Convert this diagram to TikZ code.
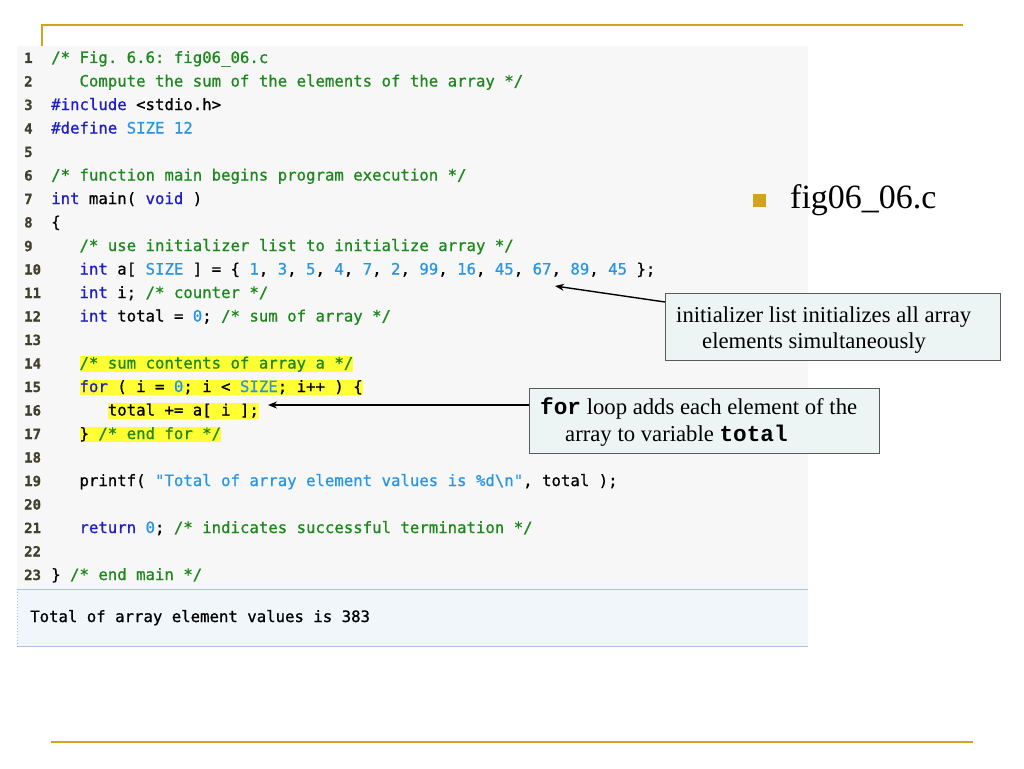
\documentclass[tikz,border=0pt]{standalone}
\usepackage{fontspec}
\setmainfont{Liberation Serif}
\setmonofont{DejaVu Sans Mono}[FakeBold=0.8]
\newfontfamily\cmono{Liberation Mono}
\usetikzlibrary{arrows.meta,calc}
\definecolor{cmtgreen}{RGB}{30,135,30}
\definecolor{kwblue}{RGB}{30,30,200}
\definecolor{cstblue}{RGB}{40,150,230}
\definecolor{lngray}{RGB}{64,64,44}
\definecolor{codebg}{RGB}{247,247,247}
\definecolor{outbg}{RGB}{240,246,250}
\definecolor{outline}{RGB}{170,195,225}
\definecolor{hlyellow}{RGB}{255,255,51}
\definecolor{boxfill}{RGB}{236,244,244}
\definecolor{boxborder}{RGB}{90,90,90}
\definecolor{gold}{RGB}{212,162,30}
\newcommand\codefnt{\ttfamily\fontsize{15.68}{23.5}\selectfont\frenchspacing}
\newcommand\lnfnt{\ttfamily\bfseries\fontsize{14}{16}\selectfont}
\newcommand\calfnt{\rmfamily\fontsize{22.7}{26}\selectfont}
\newcommand\cmt[1]{\textcolor{cmtgreen}{#1}}
\newcommand\kwd[1]{\textcolor{kwblue}{#1}}
\newcommand\cst[1]{\textcolor{cstblue}{#1}}
\begin{document}
\begin{tikzpicture}[x=1pt,y=-1pt,
  code/.style={anchor=base west, inner sep=0pt, font=\codefnt, text=black},
  lnum/.style={anchor=base west, inner sep=0pt, font=\lnfnt, text=lngray},
  hl/.style={fill=hlyellow, text height=12.5pt, text depth=3pt},
  callout/.style={draw=boxborder, fill=boxfill, line width=1.3pt, anchor=north west, inner sep=0pt},
  ctext/.style={anchor=base west, inner sep=0pt, font=\calfnt},
  arr/.style={line width=1.4pt, draw=black, -{Stealth[length=9pt,width=7pt]}},
  goldline/.style={draw=gold, line width=2pt}]
\useasboundingbox (0,0) rectangle (1024,768);
\fill[white] (0,0) rectangle (1024,768);
% frame lines
\draw[goldline] (42,47) -- (42,25) -- (963,25);
\draw[goldline] (51,742) -- (973,742);
% code background
\fill[codebg] (17,46) rectangle (808,589);
\fill[outbg] (17,589) rectangle (808,646);
\draw[outline, line width=1pt] (17,589) -- (808,589);
\draw[outline, line width=1pt] (17,646) -- (808,646);
\draw[outline, line width=1pt, dotted] (17,589) -- (17,646);
% line numbers
\foreach \k in {1,...,23} \node[lnum] (n\k) at (24, {63+(\k-1)*23.5}) {\k};
% code
\node[code] (c1) at (51,63) {\cmt{/* Fig. 6.6: fig06\_06.c}};
\node[code] (c2) at (79.32,86.5) {\cmt{Compute the sum of the elements of the array */}};
\node[code] (c3) at (51,110) {\kwd{\#include} <stdio.h>};
\node[code] (c4) at (51,133.5) {\kwd{\#define} \cst{SIZE 12}};
\node[code] (c6) at (51,180.5) {\cmt{/* function main begins program execution */}};
\node[code] (c7) at (51,204) {\kwd{int} main( \kwd{void} )};
\node[code] (c8) at (51,227.5) {\{};
\node[code] (c9) at (79.32,251) {\cmt{/* use initializer list to initialize array */}};
\node[code] (c10) at (79.32,274.5) {\kwd{int} a[ \cst{SIZE} ] = \{ \cst{1}, \cst{3}, \cst{5}, \cst{4}, \cst{7}, \cst{2}, \cst{99}, \cst{16}, \cst{45}, \cst{67}, \cst{89}, \cst{45} \};};
\node[code] (c11) at (79.32,298) {\kwd{int} i; \cmt{/* counter */}};
\node[code] (c12) at (79.32,321.5) {\kwd{int} total = \cst{0}; \cmt{/* sum of array */}};
\node[code,hl] (c14) at (79.32,368.5) {\cmt{/* sum contents of array a */}};
\node[code,hl] (c15) at (79.32,392) {\kwd{for} ( i = \cst{0}; i < \cst{SIZE}; i++ ) \{};
\node[code,hl] (c16) at (107.64,415.5) {total += a[ i ];};
\node[code,hl] (c17) at (79.32,439) {\} \cmt{/* end for */}};
\node[code] (c19) at (79.32,486) {printf( \cst{"Total of array element values is \%d\textbackslash{}n"}, total );};
\node[code] (c21) at (79.32,533) {\kwd{return} \cst{0}; \cmt{/* indicates successful termination */}};
\node[code] (c23) at (51,580) {\} \cmt{/* end main */}};
\node[code] (out) at (30,622) {Total of array element values is 383};
% title bullet
\node[fill=gold, minimum size=13pt, inner sep=0pt] (bullet) at (759.5,200.5) {};
\node[anchor=base west, inner sep=0pt, font=\rmfamily\fontsize{34}{40}\selectfont] (title) at (790,208) {fig06\_06.c};
% callouts
\node[callout, minimum width=335pt, minimum height=67pt] (box1) at (665,293) {};
\node[ctext] (t1a) at (676,322) {initializer list initializes all array};
\node[ctext] (t1b) at (702,348) {elements simultaneously};
\node[callout, minimum width=350pt, minimum height=65pt] (box2) at (529,388) {};
\node[ctext] (t2a) at (540,414) {{\cmono\bfseries for} loop adds each element of the};
\node[ctext] (t2b) at (565,441) {array to variable {\cmono\bfseries total}};
% arrows
\coordinate (tip1) at (555,286);
\coordinate (tip2) at (268,405);
\draw[arr] ($(box1.north west)+(0,9)$) -- (tip1);
\draw[arr] (box2.west |- tip2) -- (tip2);
\end{tikzpicture}
\end{document}
